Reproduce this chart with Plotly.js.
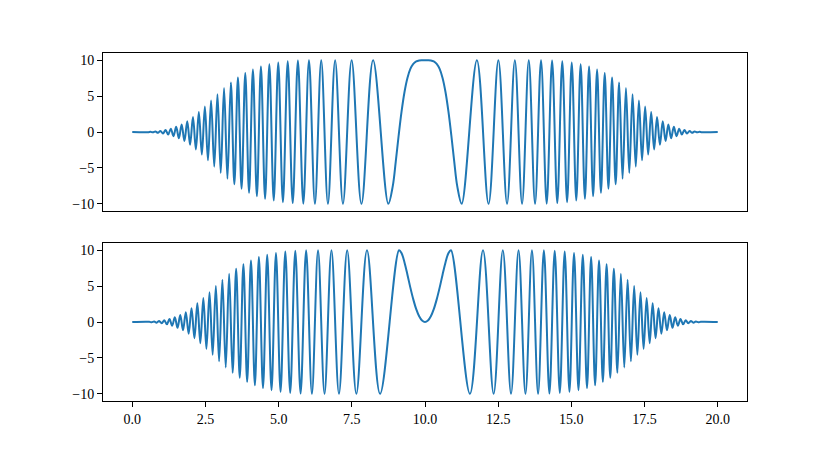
<!DOCTYPE html>
<html>
<head>
<meta charset="utf-8">
<script src="https://cdn.plot.ly/plotly-3.0.1.min.js"></script>
<style>
  html, body { margin: 0; padding: 0; background: #fff; }
  #chart { width: 831px; height: 451px; }
</style>
</head>
<body>
<div id="chart"></div>
<script>
// top panel: extrema of the signal (plus extra points around the flat top)
var topX = [0, 0.5377, 0.6211, 0.7051, 0.7900, 0.8757, 0.9622, 1.0495, 1.1377, 1.2268, 1.3168,
  1.4077, 1.4996, 1.5925, 1.6865, 1.7815, 1.8776, 1.9749, 2.0733, 2.1731, 2.2741,
  2.3764, 2.4801, 2.5853, 2.6920, 2.8003, 2.9102, 3.0218, 3.1353, 3.2507, 3.3681,
  3.4876, 3.6093, 3.7334, 3.8600, 3.9893, 4.1214, 4.2566, 4.3950, 4.5369, 4.6826,
  4.8324, 4.9867, 5.1459, 5.3105, 5.4811, 5.6584, 5.8432, 6.0367, 6.2401, 6.4551,
  6.6840, 6.9300, 7.1975, 7.4934, 7.8292, 8.2275, 8.7467,
  8.9, 9.0, 9.1, 9.2, 9.3, 9.4, 9.5, 9.6, 9.7, 9.8, 9.9, 10,
  10.1, 10.2, 10.3, 10.4, 10.5, 10.6, 10.7, 10.8, 10.9, 11.0, 11.1,
  11.2533, 11.7725, 12.1708, 12.5066, 12.8025, 13.0700, 13.3160, 13.5449, 13.7599, 13.9633,
  14.1568, 14.3416, 14.5189, 14.6895, 14.8541, 15.0133, 15.1676, 15.3174, 15.4631, 15.6050,
  15.7434, 15.8786, 16.0107, 16.1400, 16.2666, 16.3907, 16.5124, 16.6319, 16.7493, 16.8647,
  16.9782, 17.0898, 17.1997, 17.3080, 17.4147, 17.5199, 17.6236, 17.7259, 17.8269, 17.9267,
  18.0251, 18.1224, 18.2185, 18.3135, 18.4075, 18.5004, 18.5923, 18.6832, 18.7732, 18.8623,
  18.9505, 19.0378, 19.1243, 19.2100, 19.2949, 19.3789, 19.4623, 20];
var topY = [0, -0.02, 0.03, -0.05, 0.07, -0.11, 0.15, -0.21, 0.28, -0.36, 0.46,
  -0.58, 0.72, -0.88, 1.05, -1.25, 1.5, -1.78, 2.08, -2.43, 2.78,
  -3.15, 3.55, -3.95, 4.4, -4.83, 5.27, -5.7, 6.12, -6.52, 6.9,
  -7.27, 7.6, -7.9, 8.2, -8.47, 8.7, -8.95, 9.13, -9.3, 9.43,
  -9.55, 9.67, -9.77, 9.85, -9.9, 9.95, -9.98, 10, -10, 10,
  -10, 10, -10, 10, -10, 10, -10,
  -7.51, -4.16, -0.49, 2.87, 5.57, 7.52, 8.78, 9.49, 9.84, 9.97, 10, 10,
  10, 9.97, 9.84, 9.49, 8.78, 7.52, 5.57, 2.87, -0.49, -4.16, -7.51,
  -10, 10, -10, 10, -10, 10, -10, 10, -10, 10,
  -9.98, 9.95, -9.9, 9.85, -9.77, 9.67, -9.55, 9.43, -9.3, 9.13,
  -8.95, 8.7, -8.47, 8.2, -7.9, 7.6, -7.27, 6.9, -6.52, 6.12,
  -5.7, 5.27, -4.83, 4.4, -3.95, 3.55, -3.15, 2.78, -2.43, 2.08,
  -1.78, 1.5, -1.25, 1.05, -0.88, 0.72, -0.58, 0.46, -0.36, 0.28,
  -0.21, 0.15, -0.11, 0.07, -0.05, 0.03, -0.02, 0];

// bottom panel
var botX = [0, 0.5793, 0.6630, 0.7475, 0.8328, 0.9189, 1.0058, 1.0935, 1.1821, 1.2717, 1.3621,
  1.4535, 1.5459, 1.6394, 1.7338, 1.8294, 1.9261, 2.0240, 2.1231, 2.2234, 2.3250,
  2.4280, 2.5325, 2.6384, 2.7459, 2.8550, 2.9658, 3.0783, 3.1927, 3.3091, 3.4276,
  3.5482, 3.6711, 3.7964, 3.9243, 4.0550, 4.1886, 4.3254, 4.4655, 4.6093, 4.7570,
  4.9090, 5.0657, 5.2275, 5.3950, 5.5688, 5.7498, 5.9388, 6.1370, 6.3460, 6.5676,
  6.8046, 7.0607, 7.3413, 7.6553, 8.0183, 8.4650, 9.1138,
  9.2, 9.3, 9.4, 9.5, 9.6, 9.7, 9.8, 9.9, 10,
  10.1, 10.2, 10.3, 10.4, 10.5, 10.6, 10.7, 10.8,
  10.8862, 11.5350, 11.9817, 12.3447, 12.6587, 12.9393,
  13.1954, 13.4324, 13.6540, 13.8630, 14.0612, 14.2502, 14.4312, 14.6050, 14.7725, 14.9343,
  15.0910, 15.2430, 15.3907, 15.5345, 15.6746, 15.8114, 15.9450, 16.0757, 16.2036, 16.3289,
  16.4518, 16.5724, 16.6909, 16.8073, 16.9217, 17.0342, 17.1450, 17.2541, 17.3616, 17.4675,
  17.5720, 17.6750, 17.7766, 17.8769, 17.9760, 18.0739, 18.1706, 18.2662, 18.3606, 18.4541,
  18.5465, 18.6379, 18.7283, 18.8179, 18.9065, 18.9942, 19.0811, 19.1672, 19.2525, 19.3370,
  19.4207, 20];
var botY = [0, 0.03, -0.04, 0.06, -0.09, 0.13, -0.18, 0.25, -0.32, 0.41, -0.52,
  0.65, -0.8, 0.96, -1.15, 1.37, -1.64, 1.93, -2.25, 2.6, -2.95,
  3.33, -3.74, 4.15, -4.56, 5.03, -5.47, 5.9, -6.32, 6.72, -7.08,
  7.42, -7.75, 8.05, -8.33, 8.58, -8.82, 9.04, -9.22, 9.36, -9.49,
  9.61, -9.72, 9.81, -9.88, 9.93, -9.97, 9.99, -10, 10, -10,
  10, -10, 10, -10, 10, -10, 10,
  9.58, 8.3, 6.59, 4.79, 3.15, 1.79, 0.8, 0.2, 0,
  0.2, 0.8, 1.79, 3.15, 4.79, 6.59, 8.3, 9.58,
  10, -10, 10, -10, 10, -10,
  10, -10, 10, -10, 9.99, -9.97, 9.93, -9.88, 9.81, -9.72,
  9.61, -9.49, 9.36, -9.22, 9.04, -8.82, 8.58, -8.33, 8.05, -7.75,
  7.42, -7.08, 6.72, -6.32, 5.9, -5.47, 5.03, -4.56, 4.15, -3.74,
  3.33, -2.95, 2.6, -2.25, 1.93, -1.64, 1.37, -1.15, 0.96, -0.8,
  0.65, -0.52, 0.41, -0.32, 0.25, -0.18, 0.13, -0.09, 0.06, -0.04,
  0.03, 0];

var xTicks = [0, 2.5, 5, 7.5, 10, 12.5, 15, 17.5, 20];
var yTicks = [-10, -5, 0, 5, 10];

var lineStyle = { color: '#1f77b4', width: 2, shape: 'spline', smoothing: 1, simplify: false };

var data = [
  { x: topX, y: topY, xaxis: 'x2', yaxis: 'y2', type: 'scatter', mode: 'lines', line: lineStyle, hoverinfo: 'skip' },
  { x: botX, y: botY, xaxis: 'x', yaxis: 'y', type: 'scatter', mode: 'lines', line: lineStyle, hoverinfo: 'skip' }
];

var tickFont = { family: 'Liberation Serif, DejaVu Serif, serif', size: 14, color: '#000' };

var frame = {
  showline: true, mirror: true, linecolor: '#000', linewidth: 1,
  showgrid: false, zeroline: false
};

var layout = {
  width: 831,
  height: 451,
  margin: { l: 103, r: 84, t: 53, b: 50 },
  paper_bgcolor: '#fff',
  plot_bgcolor: '#fff',
  showlegend: false,
  xaxis: Object.assign({}, frame, {
    domain: [0, 1], anchor: 'y', range: [-1, 21],
    tickmode: 'array', tickvals: xTicks, ticktext: xTicks.map(function (v) { return v.toFixed(1); }),
    ticks: 'outside', ticklen: 5, tickcolor: '#000', tickfont: tickFont
  }),
  yaxis: Object.assign({}, frame, {
    domain: [0, 0.454], anchor: 'x', range: [-11, 11],
    tickmode: 'array', tickvals: yTicks,
    ticks: 'outside', ticklen: 5, tickcolor: '#000', tickfont: tickFont
  }),
  xaxis2: Object.assign({}, frame, {
    domain: [0, 1], anchor: 'y2', range: [-1, 21],
    showticklabels: false, ticks: ''
  }),
  yaxis2: Object.assign({}, frame, {
    domain: [0.546, 1], anchor: 'x2', range: [-11, 11],
    tickmode: 'array', tickvals: yTicks,
    ticks: 'outside', ticklen: 5, tickcolor: '#000', tickfont: tickFont
  })
};

Plotly.newPlot('chart', data, layout, { staticPlot: true });
</script>
</body>
</html>
